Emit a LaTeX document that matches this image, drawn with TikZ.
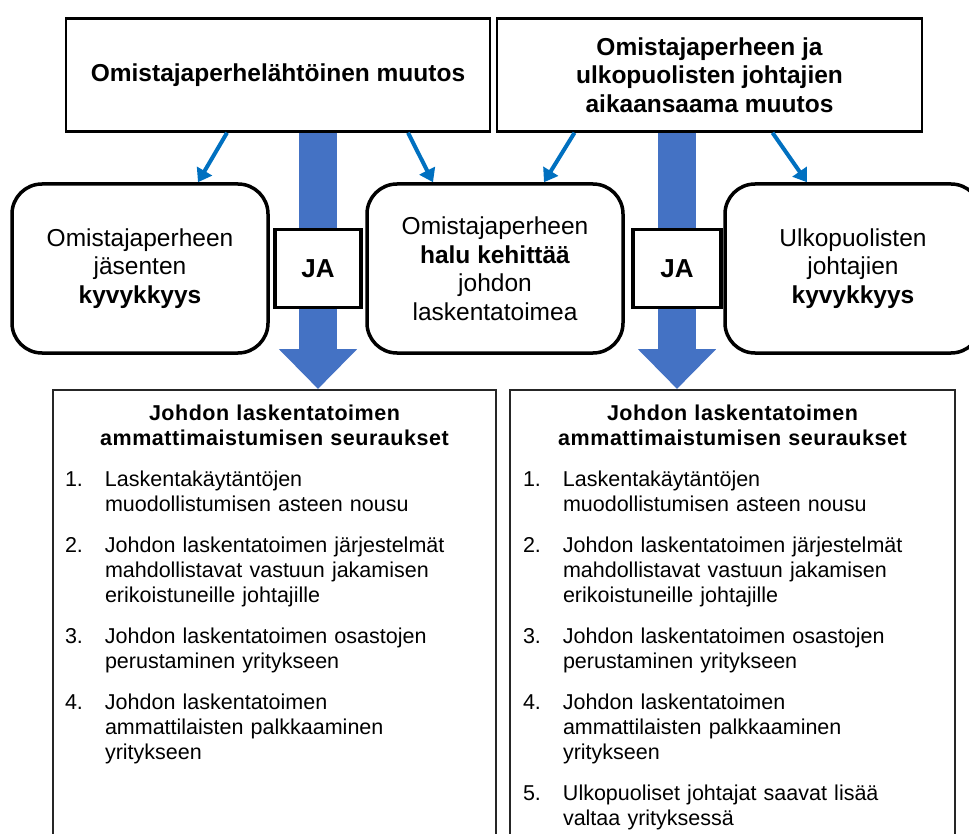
\documentclass[tikz,border=0pt]{standalone}
\usepackage{fontspec}
\setmainfont{Liberation Sans}
\usepackage{tikz}
\usetikzlibrary{arrows.meta,positioning,calc}
\definecolor{ThinArrowBlue}{RGB}{0,112,192}
\definecolor{ThickArrowBlue}{RGB}{68,114,196}
\newcommand{\kohta}[2]{\par\hangindent=40pt\hangafter=1\noindent\makebox[40pt][l]{#1}#2}
\newcommand{\otsikko}[1]{{\centering\bfseries\addfontfeatures{LetterSpace=2.5}#1\par}}

\begin{document}
\begin{tikzpicture}[
  x=1pt,y=-1pt,
  topbox/.style={
    draw,line width=2.5pt,align=center,inner sep=0pt,
    minimum width=424pt,minimum height=113pt,
    font=\fontsize{24.5}{28.5}\selectfont\bfseries
  },
  roundbox/.style={
    draw,line width=3.5pt,rounded corners=30pt,align=center,inner sep=0pt,
    minimum width=256pt,minimum height=169pt,
    font=\fontsize{24.5}{28.5}\selectfont
  },
  jabox/.style={
    draw,fill=white,line width=3.5pt,
    minimum width=86pt,minimum height=78pt,
    font=\fontsize{26}{30}\selectfont\bfseries
  },
  listbox/.style={
    draw=black!85,line width=1.5pt,anchor=north,
    minimum width=443pt,minimum height=470pt
  },
  listtext/.style={
    anchor=north,text width=419pt,inner sep=0pt,
    font=\fontsize{21.5}{25}\selectfont
  },
  arr/.style={-{Triangle[length=13pt,width=17pt]},line width=4pt,ThinArrowBlue},
  bigarr/.style={-{Triangle[length=40pt,width=76pt]},line width=38pt,ThickArrowBlue}
]
  \useasboundingbox (0,0) rectangle (969,834);
  \clip (0,0) rectangle (969,834);

  \node[topbox] (top1) at (278,75) {Omistajaperhelähtöinen muutos};
  \node[topbox,minimum width=425pt,right=4.5pt of top1] (top2)
    {Omistajaperheen ja\\
     ulkopuolisten johtajien\\
     aikaansaama muutos};

  \node[roundbox] (kyky1) at (140,268.5)
    {Omistajaperheen\\
     jäsenten\\
     \textbf{kyvykkyys}};
  \node[roundbox,right=95.5pt of kyky1] (halu)
    {Omistajaperheen\\
     \textbf{halu kehittää}\\
     johdon\\
     laskentatoimea};
  \node[roundbox,right=98.5pt of halu] (kyky2)
    {Ulkopuolisten\\
     johtajien\\
     \textbf{kyvykkyys}};

  \node[listbox] (seur1) at (274.5,389) {};
  \node[listbox,minimum width=445pt,right=12.5pt of seur1] (seur2) {};

  \node[listtext] (lista1) at ($(seur1.north)+(0,16)$)
    {\setlength{\parskip}{16pt}\raggedright
     \otsikko{Johdon laskentatoimen\\ ammattimaistumisen seuraukset}
     \kohta{1.}{Laskentakäytäntöjen\newline muodollistumisen asteen nousu}
     \kohta{2.}{Johdon laskentatoimen järjestelmät\newline mahdollistavat vastuun jakamisen\newline erikoistuneille johtajille}
     \kohta{3.}{Johdon laskentatoimen osastojen\newline perustaminen yritykseen}
     \kohta{4.}{Johdon laskentatoimen\newline ammattilaisten palkkaaminen\newline yritykseen}\par};
  \node[listtext] (lista2) at ($(seur2.north)+(0,16)$)
    {\setlength{\parskip}{16pt}\raggedright
     \otsikko{Johdon laskentatoimen\\ ammattimaistumisen seuraukset}
     \kohta{1.}{Laskentakäytäntöjen\newline muodollistumisen asteen nousu}
     \kohta{2.}{Johdon laskentatoimen järjestelmät\newline mahdollistavat vastuun jakamisen\newline erikoistuneille johtajille}
     \kohta{3.}{Johdon laskentatoimen osastojen\newline perustaminen yritykseen}
     \kohta{4.}{Johdon laskentatoimen\newline ammattilaisten palkkaaminen\newline yritykseen}
     \kohta{5.}{Ulkopuoliset johtajat saavat lisää\newline valtaa yrityksessä}\par};

  \coordinate (akseli1) at (318,0);
  \coordinate (akseli2) at (677,0);
  \draw[bigarr] (top1.south -| akseli1) -- (seur1.north -| akseli1);
  \draw[bigarr] (top2.south -| akseli2) -- (seur2.north -| akseli2);
  \node[jabox] (ja1) at (akseli1 |- kyky1) {JA};
  \node[jabox,minimum width=88pt] (ja2) at (akseli2 |- kyky1) {JA};

  \draw[arr] ($(top1.south)+(-51,0)$) -- ($(kyky1.north)+(58,0)$);
  \draw[arr] ($(top1.south)+(130,0)$) -- ($(halu.north)+(-62,0)$);
  \draw[arr] ($(top2.south)+(-135,0)$) -- ($(halu.north)+(49,0)$);
  \draw[arr] ($(top2.south)+(63,0)$) -- ($(kyky2.north)+(-46,0)$);
\end{tikzpicture}
\end{document}
